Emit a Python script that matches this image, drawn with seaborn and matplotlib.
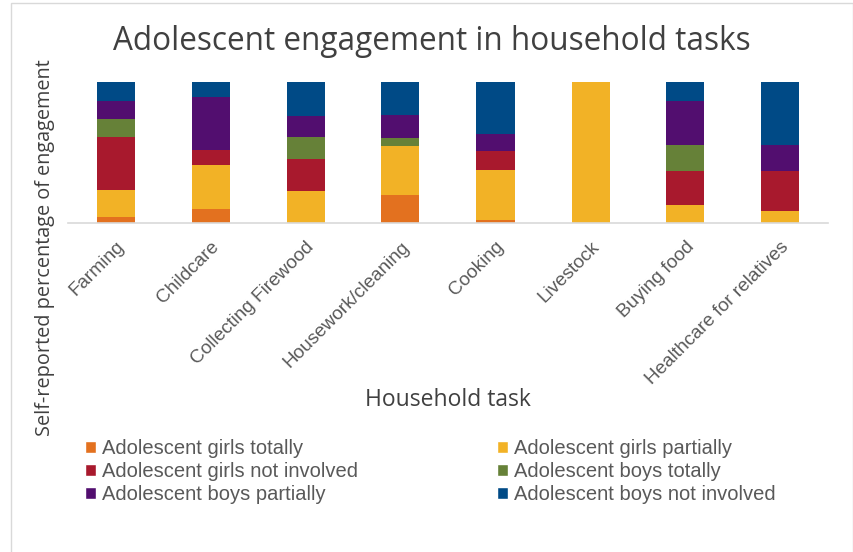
import numpy as np
import pandas as pd
import matplotlib
matplotlib.use("Agg")
import matplotlib.pyplot as plt
import seaborn as sns
from matplotlib.patches import Rectangle, Patch

tasks = ["Farming", "Childcare", "Collecting Firewood", "Housework/cleaning",
         "Cooking", "Livestock", "Buying food", "Healthcare for relatives"]
series = ["Adolescent girls totally", "Adolescent girls partially",
          "Adolescent girls not involved", "Adolescent boys totally",
          "Adolescent boys partially", "Adolescent boys not involved"]

girls_totally = [4.3, 10.0, 0.0, 20.2, 1.9, 0.0, 0.0, 0.0]
girls_partially = [19.5, 31.4, 22.6, 34.9, 36.1, 100.0, 13.1, 8.8]
girls_not_involved = [37.5, 10.5, 23.0, 0.0, 13.1, 0.0, 23.8, 28.0]
boys_totally = [12.8, 0.0, 15.4, 5.5, 0.0, 0.0, 18.8, 0.0]
boys_partially = [12.6, 38.0, 15.2, 16.6, 11.9, 0.0, 31.1, 18.5]
boys_not_involved = [13.3, 10.2, 23.8, 22.8, 37.0, 0.0, 13.3, 44.7]

colors = ["#E3711F", "#F2B226", "#A8192D", "#668138", "#520E6F", "#004A86"]

values = [girls_totally, girls_partially, girls_not_involved,
          boys_totally, boys_partially, boys_not_involved]
rows = []
for s, vals in zip(series, values):
    for t, v in zip(tasks, vals):
        rows.append({"task": t, "series": s, "value": v})
df = pd.DataFrame(rows)
df["task"] = pd.Categorical(df["task"], categories=tasks, ordered=True)

sns.set_style("white")
plt.rcParams["font.family"] = ["Liberation Sans", "DejaVu Sans"]

fig = plt.figure(figsize=(8.54, 5.52), dpi=100)
ax = fig.add_axes([68 / 854, 1 - 223 / 552, 760 / 854, 140.5 / 552])

# seaborn stacks the first hue level on top, so reverse to put girls at the bottom
sns.histplot(data=df, x="task", hue="series", weights="value",
             hue_order=series[::-1], palette=colors[::-1], multiple="stack",
             discrete=True, shrink=0.4, alpha=1, linewidth=0,
             legend=False, ax=ax)

ax.set_xlim(-0.5, 7.5)
ax.set_ylim(0, 100)
ax.set_yticks([])
ax.set_ylabel("")
ax.set_xlabel("")
for side in ["left", "right", "top"]:
    ax.spines[side].set_visible(False)
ax.spines["bottom"].set_color("#D9D9D9")
ax.spines["bottom"].set_linewidth(1.2)
ax.set_xticks(range(len(tasks)))
ax.set_xticklabels(tasks, rotation=45, ha="right", rotation_mode="anchor",
                   fontsize=13.7, color="#595959")
ax.tick_params(axis="x", length=0, pad=11)

fig.text(432 / 854, 1 - 42 / 552, "Adolescent engagement in household tasks",
         ha="center", va="center", fontsize=22.7, color="#404040",
         family="Open Sans")
fig.text(448 / 854, 1 - 400 / 552, "Household task", ha="center", va="center",
         fontsize=16.5, color="#404040", family="Open Sans")
fig.text(45 / 854, 1 - 248 / 552, "Self-reported percentage of engagement",
         ha="center", va="center", rotation=90, fontsize=14.3, color="#404040",
         family="Open Sans")

handles = [Patch(facecolor=c, label=s) for s, c in zip(series, colors)]
order = [0, 2, 4, 1, 3, 5]
fig.legend([handles[i] for i in order], [series[i] for i in order],
           ncol=2, loc="upper left", bbox_to_anchor=(71 / 854, 1 - 425 / 552),
           frameon=False, fontsize=14.5, handlelength=0.55, handleheight=0.55,
           handletextpad=0.3, columnspacing=6.9, labelspacing=0.2,
           labelcolor="#595959", borderpad=0.2)

fig.patches.append(Rectangle((11 / 854, -0.01), 842 / 854, 1 - 3 / 552 + 0.01,
                             transform=fig.transFigure, fill=False,
                             edgecolor="#D9D9D9", linewidth=1))

fig.savefig("out.png", dpi=100)
